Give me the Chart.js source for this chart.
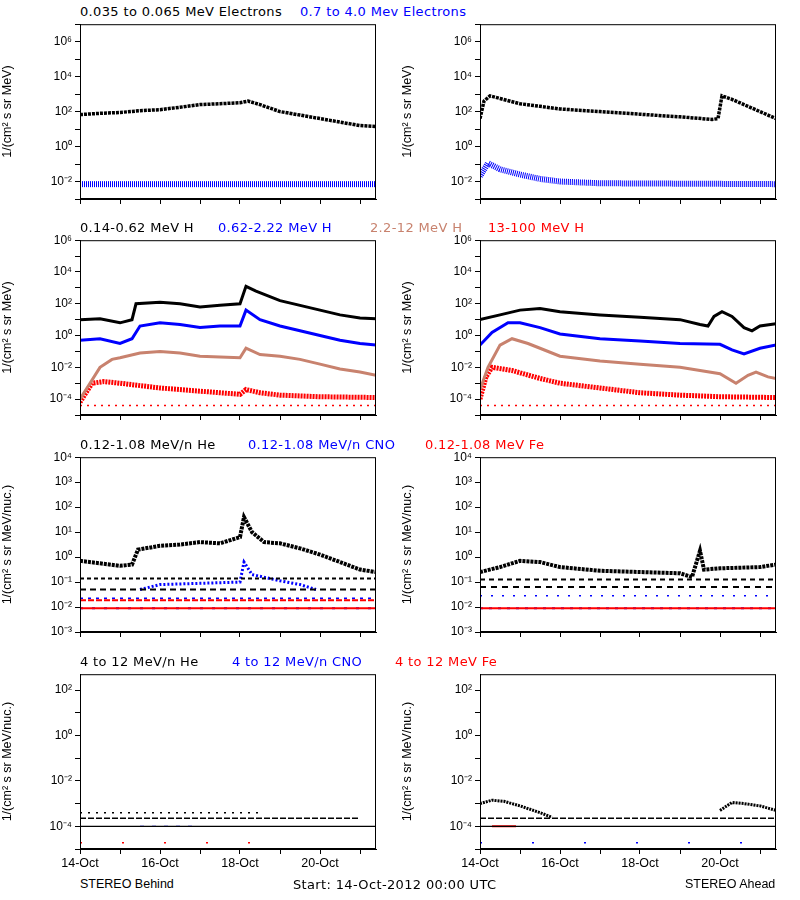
<!DOCTYPE html>
<html><head><meta charset="utf-8">
<script src="https://cdn.jsdelivr.net/npm/chart.js@4"></script>
<style>
body{margin:0;background:#fff;width:800px;height:900px;position:relative;font-family:"Liberation Sans",Arial,sans-serif;font-size:12.5px}
canvas{position:absolute}
.t{position:absolute;white-space:nowrap}
.w{font-family:"DejaVu Sans",sans-serif;font-size:13px;letter-spacing:0.35px}
</style></head><body>
<script>
// Time axis: days since 14-Oct-2012 00:00; values are log10 of intensity
const DAY_LABELS = ['14-Oct', '', '16-Oct', '', '18-Oct', '', '20-Oct', ''];

// Row 1 electrons
const eBehindLow = [[0,1.83],[0.5,1.9],[1,1.95],[1.5,2.05],[2,2.11],[2.5,2.25],[3,2.4],[3.5,2.45],[4,2.51],[4.2,2.6],[4.5,2.4],[5,2.0],[5.5,1.8],[6,1.6],[6.5,1.4],[7,1.2],[7.4,1.15]];
const eBehindHigh = [[0,-2.15],[7.4,-2.15]];
const eAheadLow = [[0,1.6],[0.1,2.6],[0.25,2.9],[0.5,2.75],[1,2.45],[1.5,2.3],[2,2.15],[3,2.0],[4,1.85],[5,1.7],[5.8,1.55],[5.95,1.6],[6.05,2.9],[6.3,2.7],[6.7,2.3],[7,2.0],[7.4,1.6]];
const eAheadHigh = [[0,-1.7],[0.2,-0.95],[0.5,-1.3],[1,-1.6],[1.5,-1.85],[2,-2.0],[3,-2.1],[7.4,-2.15]];

// Row 2 protons
const hBehind1 = [[0,1.0],[0.5,1.05],[1,0.8],[1.3,1.0],[1.4,2.0],[2,2.1],[2.5,2.0],[3,1.8],[3.5,1.9],[4,2.0],[4.15,3.1],[4.4,2.8],[5,2.2],[5.5,1.9],[6,1.6],[6.5,1.3],[7,1.1],[7.4,1.05]];
const hBehind2 = [[0,-0.3],[0.5,-0.2],[1,-0.5],[1.3,-0.2],[1.5,0.6],[2,0.8],[2.5,0.7],[3,0.5],[3.5,0.6],[4,0.6],[4.15,1.6],[4.5,1.0],[5,0.6],[5.5,0.3],[6,0],[6.5,-0.3],[7,-0.5],[7.4,-0.6]];
const hBehind3 = [[0,-4.0],[0.25,-3.0],[0.5,-2.0],[0.8,-1.5],[1,-1.4],[1.5,-1.1],[2,-1.0],[2.5,-1.1],[3,-1.3],[3.5,-1.35],[4,-1.4],[4.15,-0.8],[4.5,-1.2],[5,-1.3],[5.5,-1.5],[6,-1.8],[6.5,-2.1],[7,-2.3],[7.4,-2.5]];
const hBehind4 = [[0,-4.2],[0.3,-3.0],[0.6,-2.9],[1,-3.0],[2,-3.3],[3,-3.5],[4,-3.7],[4.15,-3.4],[4.5,-3.6],[5,-3.75],[6,-3.85],[7.4,-3.9]];
const hAhead1 = [[0,1.0],[0.5,1.3],[1,1.6],[1.5,1.7],[2,1.5],[3,1.3],[4,1.15],[5,1.0],[5.5,0.7],[5.7,0.6],[5.85,1.2],[6.05,1.5],[6.3,1.2],[6.6,0.5],[6.8,0.3],[7,0.6],[7.4,0.75]];
const hAhead2 = [[0,-0.6],[0.3,0.2],[0.7,0.8],[1,0.8],[1.5,0.5],[2,0.1],[3,-0.2],[4,-0.35],[5,-0.5],[6,-0.55],[6.3,-0.9],[6.6,-1.15],[7,-0.8],[7.4,-0.6]];
const hAhead3 = [[0,-3.4],[0.2,-2.0],[0.5,-0.6],[0.8,-0.2],[1.2,-0.5],[1.5,-0.8],[2,-1.3],[3,-1.6],[4,-1.8],[5,-2.0],[6,-2.4],[6.4,-3.0],[6.7,-2.5],[6.9,-2.3],[7.2,-2.6],[7.4,-2.7]];
const hAhead4 = [[0,-4.0],[0.15,-2.6],[0.3,-2.0],[0.8,-2.2],[1.5,-2.7],[2,-3.0],[3,-3.3],[4,-3.6],[5,-3.75],[6,-3.85],[7.4,-3.9]];
const hFloor = [[0,-4.4],[7.4,-4.4]];

// Row 3 low-energy heavy ions
const heBehind = [[0,-0.15],[0.5,-0.25],[1,-0.35],[1.3,-0.3],[1.45,0.3],[2,0.45],[2.5,0.5],[3,0.6],[3.5,0.55],[4,0.8],[4.1,1.6],[4.3,1.0],[4.6,0.6],[5,0.55],[5.5,0.35],[6,0.1],[6.5,-0.2],[7,-0.5],[7.4,-0.6]];
const cnoBehind = [[1.5,-1.3],[2,-1.1],[3,-1.05],[4,-1.0],[4.1,-0.2],[4.3,-0.7],[5,-0.95],[5.5,-1.1],[5.9,-1.3]];
const heAhead = [[0,-0.6],[0.5,-0.4],[1,-0.15],[1.5,-0.2],[2,-0.4],[3,-0.55],[4,-0.6],[5,-0.65],[5.3,-0.8],[5.5,0.25],[5.6,-0.5],[6,-0.45],[7,-0.4],[7.4,-0.3]];

// Row 4 high-energy heavy ions
const heAhead4a = [[0,-3.0],[0.3,-2.85],[0.6,-2.9],[1,-3.1],[1.5,-3.4],[1.8,-3.6]];
const heAhead4b = [[6,-3.3],[6.3,-2.95],[6.6,-3.0],[7,-3.1],[7.4,-3.3]];

const BLACK = '#000000', BLUE = '#0000ff', BROWN = '#c8826e', RED = '#ff0000';
const lvl = (v, a = 0, b = 7.4) => [[a, v], [b, v]];
const S = (d, c, w = 2, dash) => ({ d, c, w, dash });

const rows = [
  { top: 22, min: -3, max: 7, labels: [-2,0,2,4,6], unit: 'MeV',
    titles: [['0.035 to 0.065 MeV Electrons', BLACK, 80], ['0.7 to 4.0 Mev Electrons', BLUE, 300]],
    left: [S(eBehindLow, BLACK, 3.5, [3,1]), S(eBehindHigh, BLUE, 6, [1,1])],
    right: [S(eAheadLow, BLACK, 3.5, [3,1]), S(eAheadHigh, BLUE, 6, [1,1])] },
  { top: 238, min: -5, max: 6, labels: [-4,-2,0,2,4,6], unit: 'MeV',
    titles: [['0.14-0.62 MeV H', BLACK, 80], ['0.62-2.22 MeV H', BLUE, 218], ['2.2-12 MeV H', BROWN, 370], ['13-100 MeV H', RED, 488]],
    left: [S(hBehind1, BLACK, 3), S(hBehind2, BLUE, 3), S(hBehind3, BROWN, 3), S(hBehind4, RED, 5, [2,1]), S(hFloor, RED, 1.5, [2,5])],
    right: [S(hAhead1, BLACK, 3), S(hAhead2, BLUE, 3), S(hAhead3, BROWN, 3), S(hAhead4, RED, 5, [2,1]), S(hFloor, RED, 1.5, [2,5])] },
  { top: 455, min: -3, max: 4, labels: [-3,-2,-1,0,1,2,3,4], unit: 'MeV/nuc.',
    titles: [['0.12-1.08 MeV/n He', BLACK, 80], ['0.12-1.08 MeV/n CNO', BLUE, 248], ['0.12-1.08 MeV Fe', RED, 425]],
    left: [S(heBehind, BLACK, 4, [3,1]), S(lvl(-0.86), BLACK, 2, [4,3]), S(lvl(-1.3), BLACK, 2, [6,4]), S(cnoBehind, BLUE, 3, [2,2]),
           S(lvl(-1.65), BLUE, 1.5, [3,5]), S(lvl(-1.73), RED, 2, [6,2]), S(lvl(-2.05), RED, 2), S(lvl(-2.05), BLUE, 2, [3,9])],
    right: [S(heAhead, BLACK, 4, [3,1]), S(lvl(-0.9), BLACK, 2, [5,4]), S(lvl(-1.2), BLACK, 2, [6,5]),
            S(lvl(-1.55), BLUE, 1.5, [2,9]), S(lvl(-2.05), RED, 2), S(lvl(-2.05), BLUE, 2, [3,6])] },
  { top: 672, min: -5, max: 2.7, labels: [-4,-2,0,2], unit: 'MeV/nuc.',
    titles: [['4 to 12 MeV/n He', BLACK, 80], ['4 to 12 MeV/n CNO', BLUE, 232], ['4 to 12 MeV Fe', RED, 395]],
    left: [S(lvl(-3.4, 0, 4.5), BLACK, 1.5, [2,6]), S(lvl(-3.65, 0, 7), BLACK, 1.5, [6,2]), S(lvl(-4.0), BLACK, 1.2), S(lvl(-4.0, 1.5, 3), BLUE, 1.2, [4,8]), S(lvl(-4.72, 0, 5), RED, 1.5, [2,40])],
    right: [S(heAhead4a, BLACK, 3, [2,1]), S(heAhead4b, BLACK, 3, [2,1]), S(lvl(-3.65), BLACK, 1.5, [6,2]), S(lvl(-4.0), BLACK, 1.2),
            S(lvl(-4.0, 0.3, 0.9), RED, 2), S(lvl(-4.72, 0, 7), BLUE, 1.5, [2,50])] }
];

const SUP = { '-': '⁻', '0':'⁰','1':'¹','2':'²','3':'³','4':'⁴','5':'⁵','6':'⁶','7':'⁷','8':'⁸','9':'⁹' };
const sup = n => String(n).split('').map(c => SUP[c]).join('');

const frame = {
  id: 'frame',
  afterDraw(chart) {
    const a = chart.chartArea, ctx = chart.ctx;
    ctx.save(); ctx.strokeStyle = '#000'; ctx.lineWidth = 1;
    ctx.strokeRect(a.left + 0.5, a.top + 0.5, a.right - a.left - 1, a.bottom - a.top - 1);
    ctx.restore();
  }
};

function addText(txt, color, x, y, cls) {
  const d = document.createElement('div');
  d.className = 't' + (cls ? ' ' + cls : ''); d.textContent = txt; d.style.color = color;
  d.style.left = x + 'px'; d.style.top = y + 'px';
  document.body.appendChild(d);
}

rows.forEach((row, ri) => {
  row.titles.forEach(([t, c, x]) => addText(t, c, x, row.top - 18, 'w'));
  [['left', 0], ['right', 400]].forEach(([side, x0]) => {
    const cv = document.createElement('canvas');
    cv.width = 382; cv.height = 207;
    cv.style.left = x0 + 'px'; cv.style.top = (row.top - 8) + 'px';
    cv.style.width = '382px'; cv.style.height = '207px';
    document.body.appendChild(cv);
    const decades = [];
    for (let k = Math.ceil(row.min); k <= Math.floor(row.max); k++) decades.push(k);
    new Chart(cv, {
      type: 'scatter',
      data: {
        datasets: row[side].map(s => ({
          data: s.d.map(([x, l]) => ({ x, y: Math.pow(10, l) })),
          showLine: true, borderColor: s.c, backgroundColor: s.c,
          borderWidth: s.w, borderDash: s.dash || [], pointRadius: 0, tension: 0
        }))
      },
      options: {
        animation: false, responsive: false, devicePixelRatio: 1,
        layout: { padding: { top: 8, right: 6, left: 0, bottom: 0 } },
        plugins: { legend: { display: false }, tooltip: { enabled: false } },
        scales: {
          x: {
            type: 'linear', min: 0, max: 7.4,
            afterBuildTicks: s => { s.ticks = [0,1,2,3,4,5,6,7].map(v => ({ value: v })); },
            afterFit: s => { s.height = 22; },
            grid: { drawOnChartArea: false, tickLength: 5, color: '#000' },
            border: { color: '#000' },
            ticks: { color: '#000', maxRotation: 0, autoSkip: false, padding: 2,
              font: { family: 'Liberation Sans', size: 12.5 },
              callback: v => ri === 3 ? DAY_LABELS[v] : '' }
          },
          y: {
            type: 'logarithmic', min: Math.pow(10, row.min), max: Math.pow(10, row.max),
            afterBuildTicks: s => { s.ticks = decades.map(k => ({ value: Math.pow(10, k) })); },
            afterFit: s => { s.width = 80; },
            grid: { drawOnChartArea: false, tickLength: 5, color: '#000' },
            border: { color: '#000' },
            title: { display: true, text: '1/(cm² s sr ' + row.unit + ')', color: '#000', padding: 0,
              font: { family: 'Liberation Sans', size: 12.5 } },
            ticks: { color: '#000', autoSkip: false, padding: 3,
              font: { family: 'Liberation Sans', size: 12 },
              callback: v => {
                const k = Math.round(Math.log10(v));
                return row.labels.includes(k) ? '10' + sup(k) : '';
              } }
          }
        }
      },
      plugins: [frame]
    });
  });
});

addText('STEREO Behind', BLACK, 80, 877);
addText('Start: 14-Oct-2012 00:00 UTC', BLACK, 293, 877, 'w');
addText('STEREO Ahead', BLACK, 685, 877);
</script>
</body></html>
